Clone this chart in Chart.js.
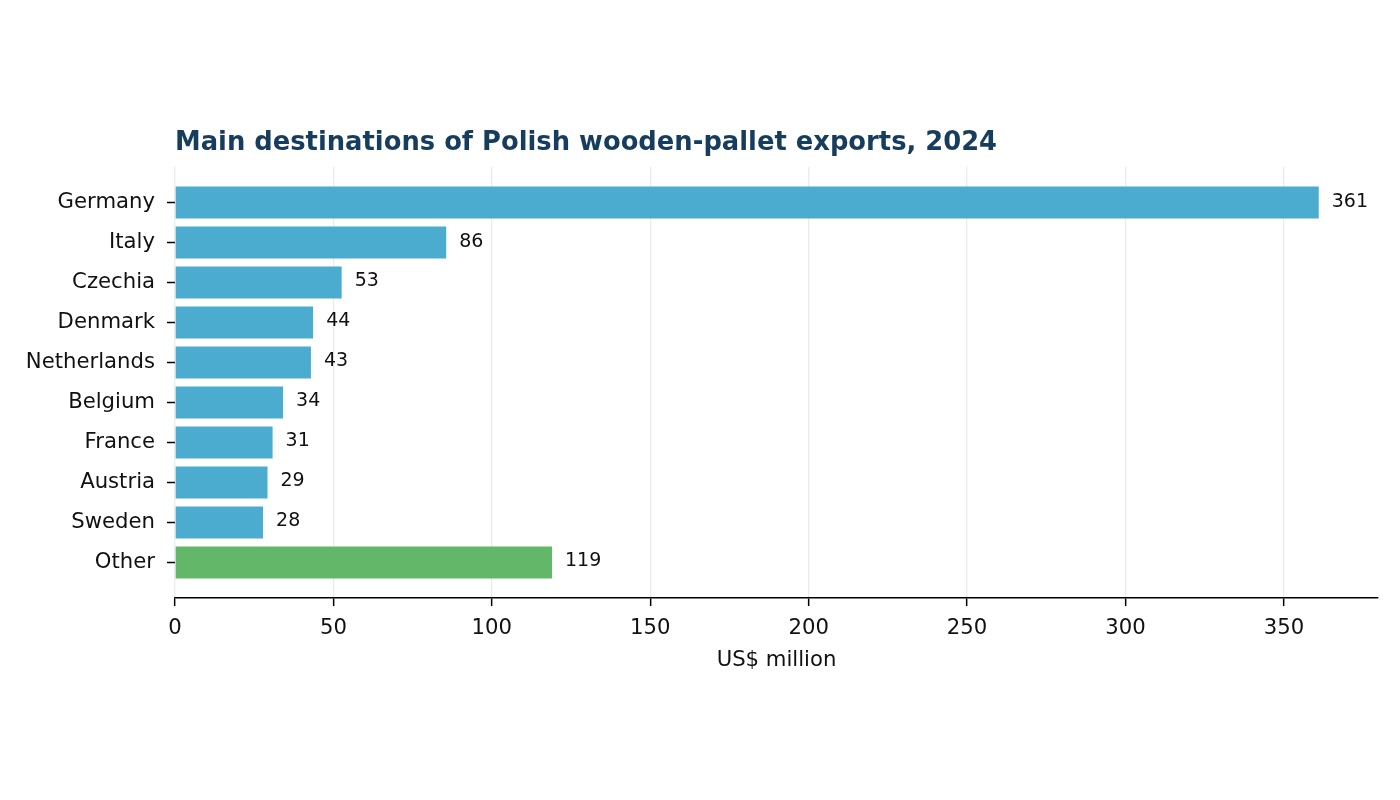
<!DOCTYPE html>
<html>
<head>
<meta charset="utf-8">
<title>Polish wooden-pallet exports</title>
<script src="https://cdn.jsdelivr.net/npm/chart.js@4.4.1/dist/chart.umd.min.js"></script>
<style>
  html, body { margin: 0; padding: 0; background: #ffffff; }
  #wrap { width: 1400px; height: 800px; }
</style>
</head>
<body>
<div id="wrap"><canvas id="chart" width="1400" height="800"></canvas></div>
<script>
// =====================================================
// DATA
// =====================================================

const chartTitle = 'Main destinations of Polish wooden-pallet exports, 2024';
const axisTitle  = 'US$ million';

// destinations, top to bottom
const countries = ['Germany', 'Italy', 'Czechia', 'Denmark', 'Netherlands',
                   'Belgium', 'France', 'Austria', 'Sweden', 'Other'];

// export value, US$ million
const exportValues = [361.0, 85.6, 52.6, 43.6, 42.9, 34.1, 30.8, 29.2, 27.8, 119.0];

// x axis ticks
const xTicks = [0, 50, 100, 150, 200, 250, 300, 350];

// =====================================================
// STYLE
// =====================================================

const FONT     = 'DejaVu Sans';
const BLUE     = '#4BACD0';
const GREEN    = '#62B868';
const TITLE_C  = '#173d5e';

// one colour per bar, "Other" gets the green one
const barColors = countries.map(c => c === 'Other' ? GREEN : BLUE);

// value labels at the end of every bar
const valueLabels = {
  id: 'valueLabels',
  afterDatasetsDraw(chart) {
    const ctx  = chart.ctx;
    const meta = chart.getDatasetMeta(0);
    ctx.save();
    ctx.font = '19px "' + FONT + '"';
    ctx.fillStyle = '#111';
    ctx.textAlign = 'left';
    ctx.textBaseline = 'middle';
    meta.data.forEach((bar, i) => {
      ctx.fillText(Math.round(exportValues[i]), bar.x + 13, bar.y - 1);
    });
    ctx.restore();
  }
};

// title lined up with the left edge of the plot
const leftTitle = {
  id: 'leftTitle',
  afterDraw(chart) {
    const ctx = chart.ctx;
    ctx.save();
    ctx.font = 'bold 25.8px "' + FONT + '"';
    ctx.fillStyle = TITLE_C;
    ctx.textAlign = 'left';
    ctx.textBaseline = 'alphabetic';
    ctx.fillText(chartTitle, chart.chartArea.left, 150);
    ctx.restore();
  }
};

new Chart(document.getElementById('chart'), {
  type: 'bar',
  data: {
    datasets: [{
      data: exportValues.map((v, i) => ({ x: v, y: i })),
      backgroundColor: barColors,
      borderWidth: 0,
      categoryPercentage: 0.8,
      barPercentage: 1.0
    }]
  },
  options: {
    indexAxis: 'y',
    responsive: false,
    animation: false,
    devicePixelRatio: 1,
    layout: { padding: { top: 167, right: 22, left: 0, bottom: 40 } },
    plugins: {
      legend:  { display: false },
      tooltip: { enabled: false },
      title:   { display: false }
    },
    scales: {
      x: {
        type: 'linear',
        position: 'bottom',
        min: 0,
        max: 379.7,
        afterBuildTicks: s => { s.ticks = xTicks.map(v => ({ value: v })); },
        afterFit: s => { s.height = 162; },
        ticks: {
          color: '#111',
          font: { family: FONT, size: 21.2 },
          padding: 10,
          maxRotation: 0
        },
        grid: {
          color: '#ebebeb',
          lineWidth: 1.3,
          tickColor: '#000',
          tickWidth: 1.5,
          tickLength: 8
        },
        border: { display: true, color: '#000', width: 1.5 },
        title: {
          display: true,
          text: axisTitle,
          color: '#111',
          font: { family: FONT, size: 21.2 },
          padding: { top: 0, bottom: 87 }
        }
      },
      y: {
        type: 'linear',
        reverse: true,
        offset: false,
        min: -0.89,
        max: 9.89,
        afterBuildTicks: s => { s.ticks = countries.map((c, i) => ({ value: i })); },
        afterFit: s => { s.width = 175; },
        ticks: {
          color: '#111',
          font: { family: FONT, size: 21.2 },
          padding: 12,
          autoSkip: false,
          callback: v => countries[v]
        },
        grid: {
          offset: false,
          drawOnChartArea: false,
          tickColor: '#000',
          tickWidth: 1.5,
          tickLength: 8
        },
        border: { display: false }
      }
    }
  },
  plugins: [valueLabels, leftTitle]
});
</script>
</body>
</html>
